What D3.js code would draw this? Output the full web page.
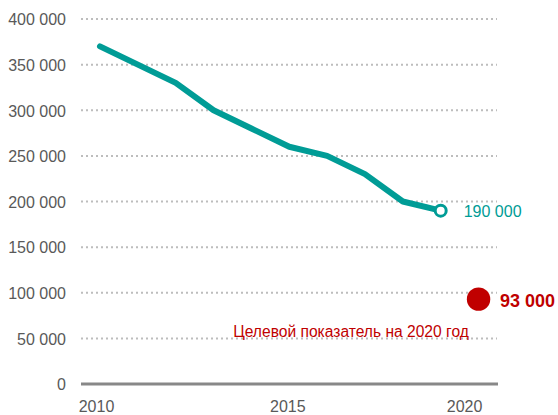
<!DOCTYPE html>
<html>
<head>
<meta charset="utf-8">
<script src="https://cdn.jsdelivr.net/npm/d3@7/dist/d3.min.js"></script>
<style>
  html, body { margin: 0; padding: 0; background: #fff; }
  svg { display: block; font-family: "Liberation Sans", Arial, sans-serif; }
</style>
</head>
<body>
<svg id="chart" width="558" height="415"></svg>
<script>
// Observed values by year
const years = [2010, 2012, 2013, 2014, 2015, 2016, 2017, 2018, 2019];
const values = [370000, 330000, 300000, 280000, 260000, 250000, 230000, 200000, 190000];
// Target for 2020
const targetYear = 2020;
const targetValue = 93000;
const targetLabel = "Целевой показатель на 2020 год";
// Axis ticks
const yTicks = [0, 50000, 100000, 150000, 200000, 250000, 300000, 350000, 400000];
const xTicks = [2010, 2015, 2020];

const teal = "#009c96";
const red = "#c00000";
const FONT = "Liberation Sans, Arial, sans-serif";

const svg = d3.select("#chart");

const x = d3.scaleLinear().domain([2010, 2019]).range([100, 440.7]);
const y = d3.scaleLinear().domain([0, 400000]).range([384, 19]);

const fmt = v => v === 0 ? "0" : d3.format(",")(v).replace(/,/g, " ");

// Dotted horizontal gridlines
svg.append("g")
  .selectAll("line")
  .data(yTicks.filter(t => t > 0))
  .join("line")
  .attr("x1", 81).attr("x2", 497)
  .attr("y1", d => y(d)).attr("y2", d => y(d))
  .attr("stroke", "#bdbdbd")
  .attr("stroke-width", 2)
  .attr("stroke-dasharray", "2,3");

// Y axis labels
const yAxis = d3.axisLeft(y).tickValues(yTicks).tickFormat(fmt).tickSize(0).tickPadding(0);
const gy = svg.append("g").attr("transform", "translate(66,0)").call(yAxis);
gy.select(".domain").remove();
gy.selectAll("text")
  .attr("font-size", 16)
  .attr("font-family", FONT)
  .attr("fill", "#595959")
  .attr("dy", "0.36em");

// Baseline
svg.append("line")
  .attr("x1", 81).attr("x2", 498)
  .attr("y1", y(0)).attr("y2", y(0))
  .attr("stroke", "#888")
  .attr("stroke-width", 3);

// X axis labels
const xAxis = d3.axisBottom(x).tickValues(xTicks).tickFormat(d3.format("d")).tickSize(0).tickPadding(0);
const gx = svg.append("g").attr("transform", "translate(0,412)").call(xAxis);
gx.select(".domain").remove();
gx.selectAll("text")
  .attr("font-size", 16)
  .attr("font-family", FONT)
  .attr("fill", "#595959")
  .attr("dy", 0)
  .attr("dx", d => d === 2010 ? -4 : d === 2020 ? -14.5 : -2);

// Series line
const data = years.map((yr, i) => ({ yr, v: values[i] }));
svg.append("path")
  .datum(data)
  .attr("fill", "none")
  .attr("stroke", teal)
  .attr("stroke-width", 6)
  .attr("stroke-linejoin", "round")
  .attr("stroke-linecap", "round")
  .attr("d", d3.line().x(d => x(d.yr)).y(d => y(d.v)));

// Last observed point
const last = data[data.length - 1];
svg.append("circle")
  .attr("cx", x(last.yr)).attr("cy", y(last.v))
  .attr("r", 5.5)
  .attr("fill", "#fff")
  .attr("stroke", teal)
  .attr("stroke-width", 3);
svg.append("text")
  .attr("x", x(last.yr) + 23).attr("y", y(last.v) + 6)
  .attr("font-size", 16)
  .attr("font-family", FONT)
  .attr("fill", teal)
  .text(fmt(last.v));

// Target point
svg.append("circle")
  .attr("cx", x(targetYear)).attr("cy", y(targetValue))
  .attr("r", 11.7)
  .attr("fill", red);
svg.append("text")
  .attr("x", x(targetYear) + 21.5).attr("y", y(targetValue) + 7.5)
  .attr("font-size", 18)
  .attr("font-weight", "bold")
  .attr("font-family", FONT)
  .attr("fill", red)
  .text(fmt(targetValue));
svg.append("text")
  .attr("x", 351).attr("y", 336.5)
  .attr("text-anchor", "middle")
  .attr("font-size", 15.6)
  .attr("font-family", FONT)
  .attr("fill", red)
  .text(targetLabel);
</script>
</body>
</html>
